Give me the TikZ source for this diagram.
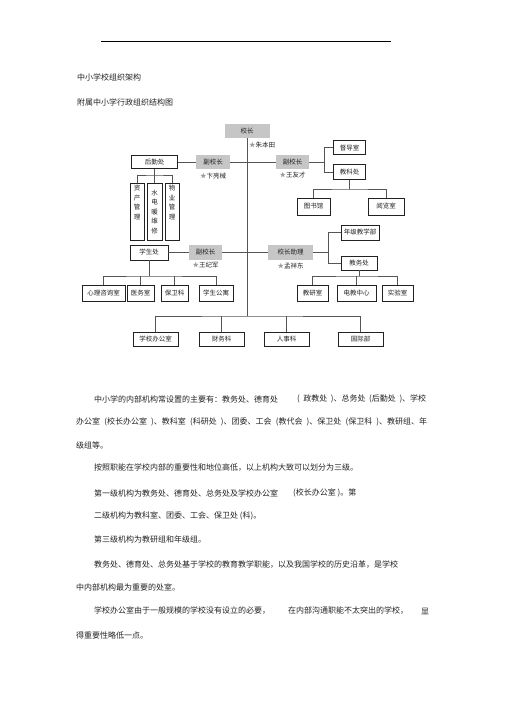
\documentclass[tikz,border=0pt]{standalone}
\usepackage{fontspec}
\setmainfont{Noto Sans CJK SC}
\usepackage{xcolor}
\usepackage{tikz}
\usetikzlibrary{positioning}
\definecolor{headgray}{HTML}{C6C6C6}
\definecolor{linegray}{HTML}{555555}
\definecolor{inkgray}{HTML}{222222}
\definecolor{stargray}{HTML}{9A9A9A}
\newcommand{\chartfont}{\fontsize{6.5}{9.5}\selectfont}
\newcommand{\bodyfont}{\fontsize{8}{10}\selectfont}
\newcommand{\starname}[1]{{\color{stargray}★}#1}

\begin{document}
\begin{tikzpicture}[
  x=1pt, y=-1pt,
  box/.style={
    rectangle, draw=inkgray, line width=0.6pt, fill=white,
    text=inkgray, font=\chartfont,
    minimum height=15, inner sep=0pt, align=center
  },
  headbox/.style={
    box, draw=none, fill=headgray
  },
  tallbox/.style={
    box, anchor=north, inner sep=1.5pt, minimum height=57
  },
  note/.style={
    inner sep=0pt, font=\chartfont, text=inkgray
  },
  link/.style={draw=linegray, line width=0.6pt},
  bodytext/.style={
    anchor=west, inner sep=0pt, font=\bodyfont, text=inkgray
  }
]
\useasboundingbox (0,0) rectangle (505,714);

\draw[line width=1pt, black] (101,42) -- (391,42);
\node[bodytext] (title)    at (77,77)  {中小学校组织架构};
\node[bodytext] (subtitle) at (77,102) {附属中小学行政组织结构图};

\node[headbox, minimum width=45, minimum height=14] (xz)   at (247,131)   {校长};
\node[note, anchor=west] (xzname) at (249,145) {\starname{朱本田}};
\node[headbox, minimum width=34, minimum height=14] (fxz1) at (213,162)   {副校长};
\node[note, below=3pt of fxz1] (fxz1name) {\starname{卞亮械}};
\node[headbox, minimum width=33, minimum height=14] (fxz2) at (292.5,162) {副校长};
\node[note, below=3pt of fxz2] (fxz2name) {\starname{王友才}};
\node[box, minimum width=46, minimum height=13] (hqc)  at (154.5,162) {后勤处};
\node[tallbox, minimum width=14] (zc) at (137,183)   {资\\产\\管\\理\\[9.5pt]};
\node[tallbox, minimum width=15] (sd) at (154.5,183) {水\\电\\暖\\维\\修};
\node[tallbox, minimum width=14] (wy) at (172,183)   {物\\业\\管\\理\\[9.5pt]};
\node[box, minimum width=32, minimum height=14] (dds)  at (349.5,147.5) {督导室};
\node[box, minimum width=32, minimum height=15] (jkc)  at (349.5,172)   {教科处};
\node[box, minimum width=33, minimum height=17] (tsg)  at (313.5,206.5) {图书馆};
\node[box, minimum width=36, minimum height=17] (ylsh) at (386,206.5)   {阅览室};

\node[box, minimum width=38] (xsc)  at (149,252.5)   {学生处};
\node[headbox, minimum width=33] (fxz3) at (205.5,252.5) {副校长};
\node[note, below=2pt of fxz3] (fxz3name) {\starname{王纪军}};
\node[headbox, minimum width=45] (zl) at (290.5,252.5) {校长助理};
\node[note, below=2pt of zl] (zlname) {\starname{孟祥东}};
\node[box, minimum width=38] (njb) at (360,232.5) {年级教学部};
\node[box, minimum width=36, minimum height=14] (jwc) at (359,263) {教务处};

\node[box, minimum width=43, minimum height=16] (xlzx) at (103.5,293) {心理咨询室};
\node[box, minimum width=27, minimum height=16] (yws)  at (140.5,293) {医务室};
\node[box, minimum width=27, minimum height=16] (bwk)  at (174.5,293) {保卫科};
\node[box, minimum width=34, minimum height=16] (xsgy) at (216,293)   {学生公寓};
\node[box, minimum width=31, minimum height=16] (jys)  at (312.5,293) {教研室};
\node[box, minimum width=39, minimum height=16] (djzx) at (356.5,293) {电教中心};
\node[box, minimum width=31, minimum height=16] (sys)  at (397.5,293) {实验室};

\node[box, minimum width=45, minimum height=14] (xbgs) at (155.5,339) {学校办公室};
\node[box, minimum width=45, minimum height=14] (cwk)  at (221.5,339) {财务科};
\node[box, minimum width=45, minimum height=14] (rsk)  at (286.5,339) {人事科};
\node[box, minimum width=45, minimum height=14] (gjb)  at (360.5,339) {国际部};

\coordinate (bus)   at (247,316);
\coordinate (hqbus) at (154.5,175);
\coordinate (br1)   at (324,162);
\coordinate (jkbus) at (349.5,189);
\coordinate (br2)   at (328,252.5);
\coordinate (xsbus) at (149,276);
\coordinate (jwbus) at (359,276);

\draw[link] (xz) -- (bus);
\draw[link] (xbgs.north) |- (bus) -| (gjb.north);
\draw[link] (cwk.north) -- (cwk.north |- bus);
\draw[link] (rsk.north) -- (rsk.north |- bus);
\draw[link] (hqc) -- (fxz1);
\draw[link] (fxz1) -- (fxz2);
\draw[link] (hqc) -- (sd);
\draw[link] (zc.north) |- (hqbus) -| (wy.north);
\draw[link] (fxz2) -- (br1);
\draw[link] (dds.west) -| (br1);
\draw[link] (jkc.west) -| (br1);
\draw[link] (jkc) -- (jkbus);
\draw[link] (tsg.north) |- (jkbus) -| (ylsh.north);
\draw[link] (xsc) -- (fxz3);
\draw[link] (fxz3) -- (zl);
\draw[link] (zl) -- (br2);
\draw[link] (njb.west) -| (br2);
\draw[link] (jwc.west) -| (br2);
\draw[link] (xsc) -- (xsbus);
\draw[link] (xlzx.north) |- (xsbus) -| (xsgy.north);
\draw[link] (yws.north) -- (yws.north |- xsbus);
\draw[link] (bwk.north) -- (bwk.north |- xsbus);
\draw[link] (jwc) -- (jwbus);
\draw[link] (jys.north) |- (jwbus) -| (sys.north);
\draw[link] (djzx.north) -- (djzx.north |- jwbus);

\node[bodytext] (p1a) at (94,399)  {中小学的内部机构常设置的主要有：教务处、德育处};
\node[bodytext] (p1b) at (297,399) {\makebox[129pt][s]{( 政教处 )、总务处 (后勤处 )、学校}};
\node[bodytext] (p2)  at (76,422)  {\makebox[351pt][s]{办公室 (校长办公室 )、教科室 (科研处 )、团委、工会 (教代会 )、保卫处 (保卫科 )、教研组、年}};
\node[bodytext] (p3)  at (76,445)  {级组等。};
\node[bodytext] (p4)  at (94,468)  {按照职能在学校内部的重要性和地位高低，以上机构大致可以划分为三级。};
\node[bodytext] (p5a) at (94,493)  {第一级机构为教务处、德育处、总务处及学校办公室};
\node[bodytext] (p5b) at (293,493) {(校长办公室 )。第};
\node[bodytext] (p6)  at (94,516)  {二级机构为教科室、团委、工会、保卫处 (科)。};
\node[bodytext] (p7)  at (94,539)  {第三级机构为教研组和年级组。};
\node[bodytext] (p8)  at (94,565)  {教务处、德育处、总务处基于学校的教育教学职能，以及我国学校的历史沿革，是学校};
\node[bodytext] (p9)  at (76,587)  {中内部机构最为重要的处室。};
\node[bodytext] (p10a) at (94,611)  {学校办公室由于一般规模的学校没有设立的必要，};
\node[bodytext] (p10b) at (288,611) {在内部沟通职能不太突出的学校，};
\node[bodytext] (p10c) at (421,611) {显};
\node[bodytext] (p11) at (76,635)  {得重要性略低一点。};
\end{tikzpicture}
\end{document}
